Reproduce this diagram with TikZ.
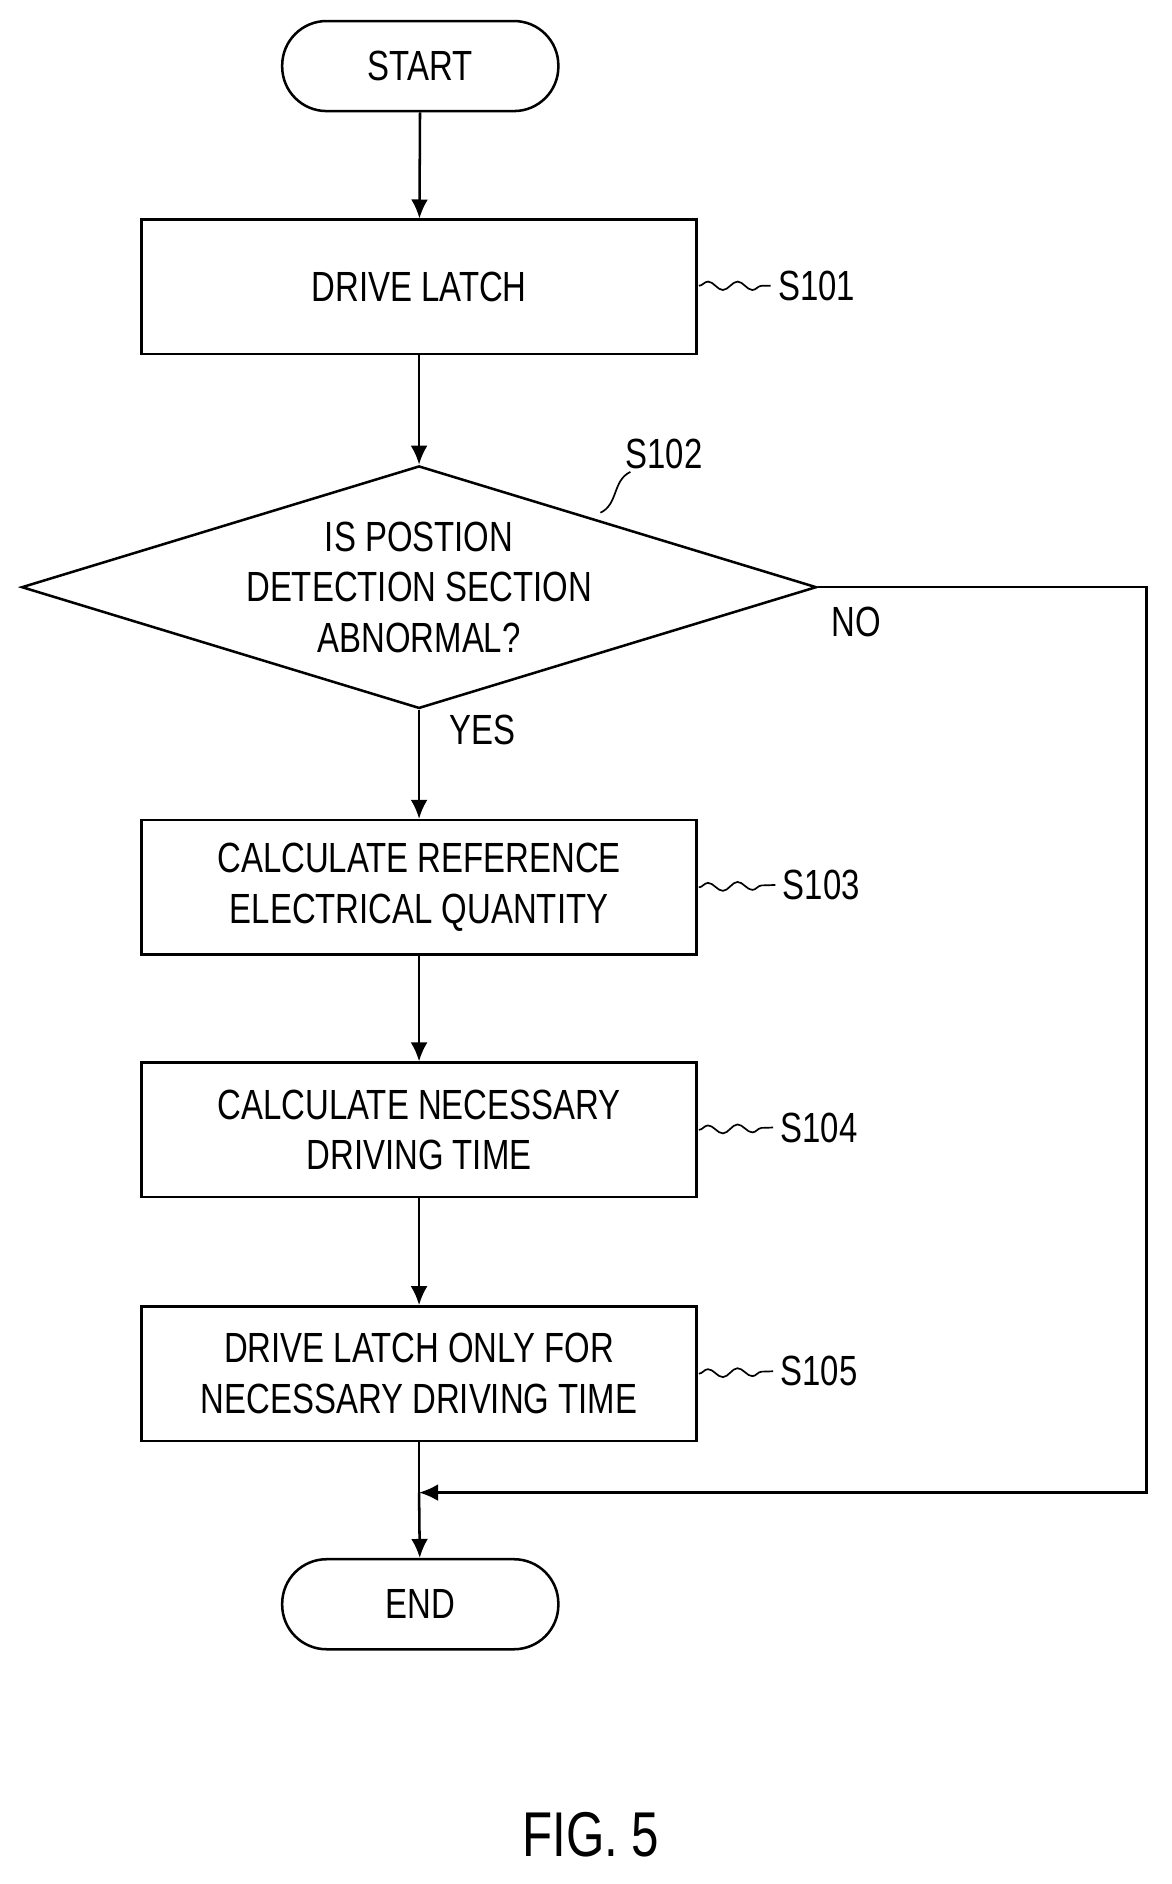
\documentclass[tikz,border=0pt]{standalone}
\usepackage{fontspec}
\setmainfont{Liberation Sans}[FakeStretch=0.78]
\usetikzlibrary{shapes.geometric,arrows.meta,decorations.pathmorphing}
\begin{document}
\begin{tikzpicture}[x=0.02cm,y=-0.02cm,
  every node/.style={font=\fontsize{20}{24}\selectfont},
  box/.style={draw,line width=1.2pt,minimum width=462*0.02cm,minimum height=112*0.02cm,align=center,inner sep=0pt},
  term/.style={draw,line width=1.2pt,rounded corners=37*0.02cm,minimum width=230*0.02cm,minimum height=75*0.02cm},
  arr/.style={line width=1.2pt,-{Latex[length=9pt,width=8pt]}},
  sq/.style={line width=0.8pt,decorate,decoration={snake,amplitude=2pt,segment length=14pt}}]
\useasboundingbox (0,0) rectangle (976,1569);
\node[term] (start) at (350,55) {START};
\node[box] (s1) at (349,239) {DRIVE LATCH};
\node[draw,line width=1.2pt,diamond,aspect=3.28,minimum width=662*0.02cm,minimum height=202*0.02cm,inner sep=0pt] (d) at (349,489) {};
\node[align=center] at (349,489) {IS POSTION\\DETECTION SECTION\\ABNORMAL?};
\node[box] (s3) at (349,739) {CALCULATE REFERENCE\\ELECTRICAL QUANTITY};
\node[box] (s4) at (349,941) {CALCULATE NECESSARY\\DRIVING TIME};
\node[box] (s5) at (349,1144) {DRIVE LATCH ONLY FOR\\NECESSARY DRIVING TIME};
\node[term] (end) at (350,1336) {END};
\coordinate (m) at (349,1243);
\coordinate (r1) at (955,489);
\coordinate (r2) at (955,1243);
\draw[arr] (start) -- (s1);
\draw[arr] (s1) -- (d.north);
\draw[arr] (d.south) -- (s3);
\draw[arr] (s3) -- (s4);
\draw[arr] (s4) -- (s5);
\draw[line width=1.2pt] (s5) -- (m);
\draw[arr] (m) -- (end);
\draw[arr] (d.east) -- (r1) -- (r2) -- (m);
\node at (402,608) {YES};
\node at (713,518) {NO};
\node (l1) at (680,238) {S101};
\node (l2) at (553,378) {S102};
\node (l3) at (684,737) {S103};
\node (l4) at (682,939) {S104};
\node (l5) at (682,1142) {S105};
\draw[sq] (582,238) -- (l1.west);
\draw[sq] (582,739) -- (l3.west);
\draw[sq] (582,941) -- (l4.west);
\draw[sq] (582,1144) -- (l5.west);
\draw[line width=0.8pt] (500,427) .. controls (515,420) and (510,400) .. (525,393);
\node[font=\fontsize{30}{34}\selectfont] (fig) at (492,1528) {FIG. 5};
\end{tikzpicture}
\end{document}
